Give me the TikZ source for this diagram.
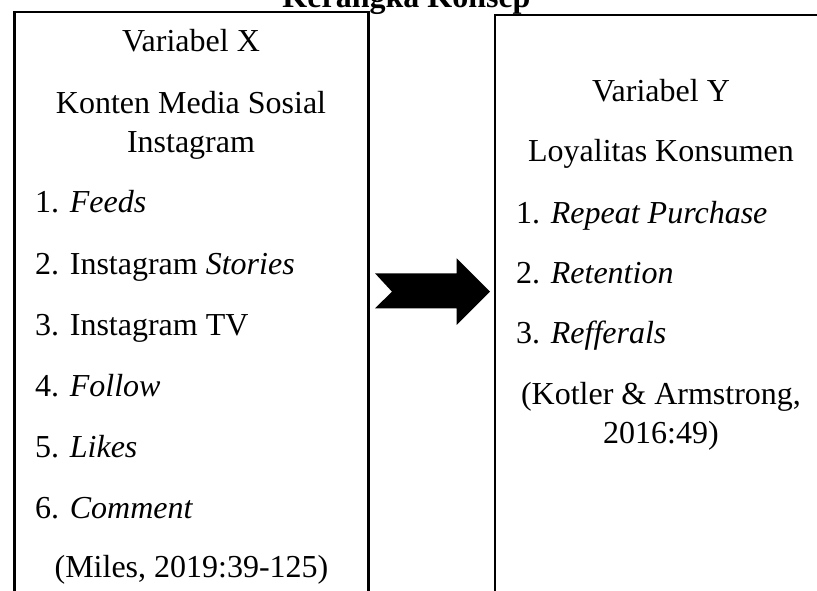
\documentclass[tikz,border=0pt]{standalone}
\usepackage{fontspec}
\setmainfont{Liberation Serif}
\begin{document}
\begin{tikzpicture}[x=1pt,y=1pt,
  box/.style={draw, line width=2.6pt, inner sep=0pt, outer sep=0pt, anchor=north west},
  txt/.style={inner sep=0pt, font=\fontsize{32}{39}\selectfont},
  ctr/.style={txt, anchor=base},
  lft/.style={txt, anchor=base west},
  blockarrow/.style={fill=black, draw=none}]
\useasboundingbox (0,0) rectangle (817,591);
\clip (0,0) rectangle (817,591);
% boxes
\node[box, minimum width=354pt, minimum height=700pt] (bx) at (14.5,579) {};
\node[box, minimum width=360pt, minimum height=700pt] (by) at (495,576) {};
% title
\node[ctr, font=\fontsize{32}{39}\selectfont\bfseries] (title) at (406.5,583.5) {Kerangka Konsep};
% left box text
\node[ctr] (vx) at (191,539.3) {Variabel X};
\node[ctr] (kx1) at (191,477.7) {Konten Media Sosial};
\node[ctr] (kx2) at (191,438.7) {Instagram};
\node[lft] (x1) at (35,378.3) {1. \textit{Feeds}};
\node[lft] (x2) at (35,316.5) {2. Instagram \textit{Stories}};
\node[lft] (x3) at (35,255.3) {3. Instagram TV};
\node[lft] (x4) at (35,194.3) {4. \textit{Follow}};
\node[lft] (x5) at (35,133.7) {5. \textit{Likes}};
\node[lft] (x6) at (35,72.7) {6. \textit{Comment}};
\node[ctr] (srcx) at (191.5,13) {(Miles, 2019:39-125)};
% right box text
\node[ctr] (vy) at (661,489.3) {Variabel Y};
\node[ctr] (ky) at (661,429.3) {Loyalitas Konsumen};
\node[lft] (y1) at (516,367.7) {1. \textit{Repeat Purchase}};
\node[lft] (y2) at (516,307.7) {2. \textit{Retention}};
\node[lft] (y3) at (516,247.5) {3. \textit{Refferals}};
\node[ctr] (srcy1) at (661,186) {(Kotler \& Armstrong,};
\node[ctr] (srcy2) at (661,147) {2016:49)};
% block arrow between the boxes
\coordinate (tailT) at (375,317.7);
\coordinate (tailB) at (375,282.7);
\coordinate (notch) at (392,299.3);
\coordinate (tip) at (490,299.3);
\fill[blockarrow] (tailT) -- (456.7,317.7) -- (456.7,332.7) -- (tip)
  -- (456.7,266) -- (456.7,282.7) -- (tailB) -- (notch) -- cycle;
\end{tikzpicture}
\end{document}
